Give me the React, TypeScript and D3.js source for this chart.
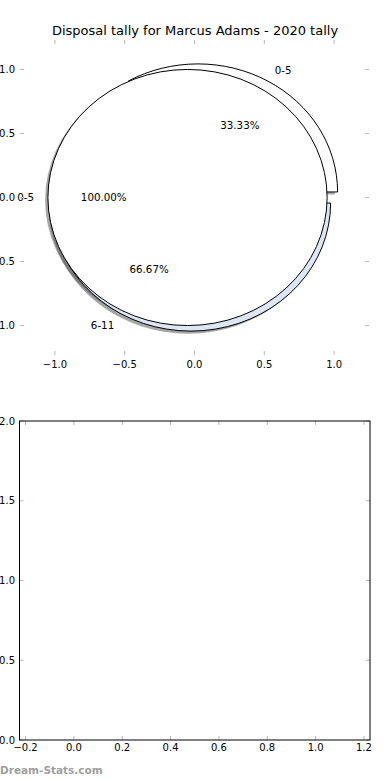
import * as d3 from 'd3';

// pie data (two pies drawn on the same axes, as in the source)
const outerLabels = ['0-5'];
const outerValues = [1];
const outerColors = ['#ffffff'];

const innerLabels = ['0-5', '6-11'];
const innerValues = [1, 2];
const innerColors = ['#ffffff', '#dde6f5'];

const pieTicks = [-1, -0.5, 0, 0.5, 1];
const bottomXTicks = [-0.2, 0, 0.2, 0.4, 0.6, 0.8, 1.0, 1.2];
const bottomYTicks = [0, 0.5, 1.0, 1.5, 2.0];

const title = 'Disposal tally for Marcus Adams - 2020 tally';
const watermark = 'Dream-Stats.com';

const FONT = '"DejaVu Sans", sans-serif';
const TICK_GREY = '#b5b5b5';
const EXPLODE = 0.05;

const fmtTick = (v: number) => (v < 0 ? '\u2212' : '') + Math.abs(v).toFixed(1);

interface WedgeInfo {
  label: string;
  color: string;
  path: string;
  cx: number;
  cy: number;
  mid: number;
  pct: string;
}

function buildWedges(values: number[], labels: string[], colors: string[]): WedgeInfo[] {
  // matplotlib style: start at 3 o'clock, go counter-clockwise
  const pie = d3.pie<number>()
    .sort(null)
    .value(d => d)
    .startAngle(Math.PI / 2)
    .endAngle(Math.PI / 2 - 2 * Math.PI);
  const arc = d3.arc<d3.PieArcDatum<number>>().innerRadius(0).outerRadius(1);
  const total = d3.sum(values);
  return pie(values).map((d, i) => {
    const mid = (d.startAngle + d.endAngle) / 2;
    return {
      label: labels[i],
      color: colors[i],
      path: arc(d) || '',
      cx: EXPLODE * Math.sin(mid),
      cy: EXPLODE * Math.cos(mid),
      mid,
      pct: ((values[i] / total) * 100).toFixed(2) + '%'
    };
  });
}

export default function App() {
  const width = 390;
  const height = 780;

  // top (pie) axes
  const x = d3.scaleLinear().domain([-1.25, 1.25]).range([20, 369]);
  const y = d3.scaleLinear().domain([-1.23, 1.23]).range([355, 40]);
  const sx = x(1) - x(0);
  const sy = y(0) - y(1);

  // bottom (empty) axes
  const bx = d3.scaleLinear().domain([-0.225, 1.225]).range([19.5, 370]);
  const by = d3.scaleLinear().domain([0, 2]).range([740, 421]);

  const inner = buildWedges(innerValues, innerLabels, innerColors);
  const outer = buildWedges(outerValues, outerLabels, outerColors);
  const all = [...inner, ...outer];

  const wedgeTransform = (w: WedgeInfo, ox = 0, oy = 0) =>
    `translate(${x(w.cx + ox)},${y(w.cy + oy)}) scale(${sx},${sy})`;

  return (
    <svg
      width={width}
      height={height}
      style={{ position: 'absolute', left: 0, top: 0, background: '#fff' }}
      fontFamily={FONT}
    >
      <text x={195} y={34.5} textAnchor="middle" fontSize={13} fill="#000">{title}</text>

      {/* shadows sit below every wedge */}
      {all.map((w, i) => (
        <path key={'s' + i} d={w.path} transform={wedgeTransform(w, -0.02, -0.02)}
          fill="#4d4d4d" fillOpacity={0.5} />
      ))}
      {all.map((w, i) => (
        <path key={'w' + i} d={w.path} transform={wedgeTransform(w)}
          fill={w.color} stroke="#000" strokeWidth={1} vectorEffect="non-scaling-stroke"
          strokeLinejoin="miter" />
      ))}
      {all.map((w, i) => {
        const lx = w.cx + 1.1 * Math.sin(w.mid);
        const ly = w.cy + 1.1 * Math.cos(w.mid);
        const px = w.cx + 0.6 * Math.sin(w.mid);
        const py = w.cy + 0.6 * Math.cos(w.mid);
        return (
          <g key={'t' + i} fontSize={10.3} fill="#000">
            <text x={x(lx)} y={y(ly)} dy="0.35em" textAnchor={lx > 0 ? 'start' : 'end'}>{w.label}</text>
            <text x={x(px)} y={y(py)} dy="0.35em" textAnchor="middle">{w.pct}</text>
          </g>
        );
      })}

      {/* pie axes ticks (no frame) */}
      <g stroke={TICK_GREY} strokeWidth={1}>
        {pieTicks.map(t => (
          <g key={'px' + t}>
            <line x1={x(t)} x2={x(t)} y1={40} y2={44} />
            <line x1={x(t)} x2={x(t)} y1={355} y2={351} />
            <line x1={20} x2={24} y1={y(t)} y2={y(t)} />
            <line x1={369} x2={365} y1={y(t)} y2={y(t)} />
          </g>
        ))}
      </g>
      <g fontSize={10} fill="#000">
        {pieTicks.map(t => (
          <text key={'lx' + t} x={x(t)} y={368} textAnchor="middle">{fmtTick(t)}</text>
        ))}
        {pieTicks.map(t => (
          <text key={'ly' + t} x={15} y={y(t)} dy="0.35em" textAnchor="end">{fmtTick(t)}</text>
        ))}
      </g>

      {/* bottom empty axes */}
      <g stroke={TICK_GREY} strokeWidth={1}>
        {bottomXTicks.map(t => (
          <g key={'bx' + t}>
            <line x1={bx(t)} x2={bx(t)} y1={421} y2={425} />
            <line x1={bx(t)} x2={bx(t)} y1={740} y2={736} />
          </g>
        ))}
        {bottomYTicks.map(t => (
          <g key={'by' + t}>
            <line x1={19.5} x2={23.5} y1={by(t)} y2={by(t)} />
            <line x1={370} x2={366} y1={by(t)} y2={by(t)} />
          </g>
        ))}
      </g>
      <rect x={19.5} y={421} width={350.5} height={319} fill="none" stroke="#000" strokeWidth={1} />
      <g fontSize={10} fill="#000">
        {bottomXTicks.map(t => (
          <text key={'bl' + t} x={bx(t)} y={751} textAnchor="middle">{fmtTick(t)}</text>
        ))}
        {bottomYTicks.map(t => (
          <text key={'bly' + t} x={15} y={by(t)} dy="0.35em" textAnchor="end">{fmtTick(t)}</text>
        ))}
      </g>

      <text x={0} y={774} fontSize={10.5} fontWeight="bold" fill="#a0a0a0">{watermark}</text>
    </svg>
  );
}
